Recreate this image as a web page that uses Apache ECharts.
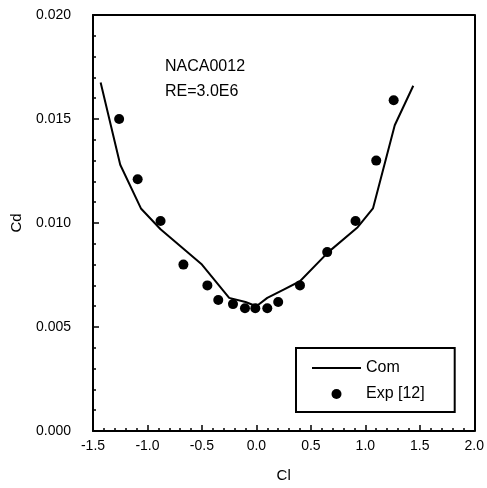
<!DOCTYPE html>
<html><head><meta charset="utf-8">
<script src="https://cdn.jsdelivr.net/npm/echarts@6/dist/echarts.min.js"></script>
<style>html,body{margin:0;padding:0;background:#fff}#c{width:487px;height:488px}</style>
</head><body><div id="c"></div>
<script>
var comCl = [-1.43, -1.25, -1.06, -0.88, -0.50, -0.25, -0.10, 0.00, 0.10, 0.25, 0.40, 0.66, 0.93, 1.07, 1.27, 1.44];
var comCd = [0.01675, 0.0128, 0.0107, 0.0097, 0.0080, 0.0064, 0.0062, 0.0060, 0.0064, 0.0068, 0.0072, 0.0086, 0.0098, 0.0107, 0.0147, 0.0166];
var expCl = [-1.26, -1.09, -0.88, -0.67, -0.45, -0.35, -0.215, -0.105, -0.01, 0.10, 0.20, 0.40, 0.65, 0.91, 1.10, 1.26];
var expCd = [0.0150, 0.0121, 0.0101, 0.0080, 0.0070, 0.0063, 0.0061, 0.0059, 0.0059, 0.0059, 0.0062, 0.0070, 0.0086, 0.0101, 0.0130, 0.0159];
var xTicks = ['-1.5','-1.0','-0.5','0.0','0.5','1.0','1.5','2.0'];
var yTicks = ['0.000','0.005','0.010','0.015','0.020'];

var font = 'Liberation Sans, Arial, sans-serif';
function zip(a,b){return a.map(function(v,i){return [v,b[i]];});}
var chart = echarts.init(document.getElementById('c'), null, {renderer:'canvas'});
var axisLine = {show:true, onZero:false, lineStyle:{color:'#000', width:2}};
chart.setOption({
  animation:false,
  backgroundColor:'#fff',
  grid:{left:93, right:10, top:15, bottom:57, containLabel:false},
  xAxis:[{
    type:'value', min:-1.5, max:2.0, interval:0.5,
    name:'Cl', nameLocation:'middle', nameGap:37,
    nameTextStyle:{fontFamily:font, fontSize:15, color:'#000'},
    axisLine:axisLine,
    axisTick:{show:true, inside:false, length:-6, lineStyle:{color:'#000', width:1.5}},
    minorTick:{show:true, splitNumber:5, length:-3, lineStyle:{color:'#000', width:1.5}},
    splitLine:{show:false},
    axisLabel:{fontFamily:font, fontSize:14, color:'#000', margin:8,
      formatter:function(v){var i=Math.round((v+1.5)/0.5);return xTicks[i];}}
  },{
    type:'value', min:-1.5, max:2.0, position:'top',
    axisLine:axisLine, axisTick:{show:false}, axisLabel:{show:false}, splitLine:{show:false}
  }],
  yAxis:[{
    type:'value', min:0, max:0.02, interval:0.005,
    name:'Cd', nameLocation:'middle', nameGap:69,
    nameTextStyle:{fontFamily:font, fontSize:15, color:'#000'},
    axisLine:axisLine,
    axisTick:{show:true, inside:false, length:-6, lineStyle:{color:'#000', width:1.5}},
    minorTick:{show:true, splitNumber:5, length:-3, lineStyle:{color:'#000', width:1.5}},
    splitLine:{show:false},
    axisLabel:{fontFamily:font, fontSize:14, color:'#000', margin:22,
      formatter:function(v){var i=Math.round(v/0.005);return yTicks[i];}}
  },{
    type:'value', min:0, max:0.02, position:'right',
    axisLine:axisLine, axisTick:{show:false}, axisLabel:{show:false}, splitLine:{show:false}
  }],
  legend:{
    show:true,
    orient:'vertical', left:296, top:348, width:130,
    padding:[12,30,10,16], itemGap:10,
    borderColor:'#000', borderWidth:2, backgroundColor:'#fff',
    itemWidth:49, itemHeight:10,
    textStyle:{fontFamily:font, fontSize:16, color:'#000'},
    data:[{name:'Com', icon:'path://M0,4L49,4L49,6L0,6Z'}, {name:'Exp [12]', icon:'circle'}]
  },
  graphic:[
    {type:'text', left:165, top:59, style:{text:'NACA0012', fontFamily:font, fontSize:16, fill:'#000'}},
    {type:'text', left:165, top:84, style:{text:'RE=3.0E6', fontFamily:font, fontSize:16, fill:'#000'}}
  ],
  series:[
    {name:'Com', type:'line', data:zip(comCl, comCd), showSymbol:false, symbol:'none',
     lineStyle:{color:'#000', width:2}, itemStyle:{color:'#000'}},
    {name:'Exp [12]', type:'scatter', data:zip(expCl, expCd), symbol:'circle', symbolSize:10,
     itemStyle:{color:'#000', opacity:1}}
  ]
});
</script></body></html>
